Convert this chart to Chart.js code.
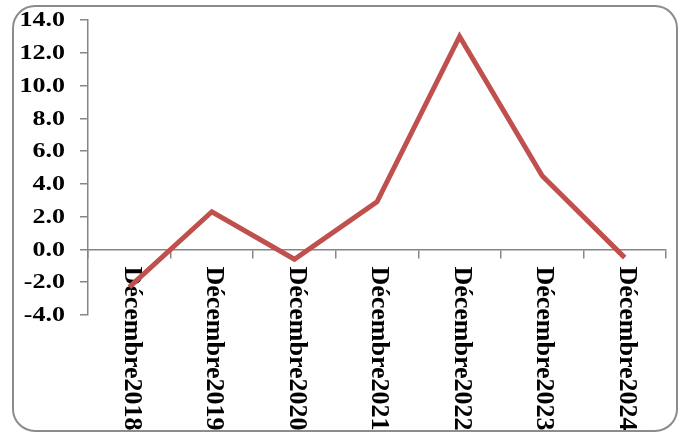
<!DOCTYPE html>
<html>
<head>
<meta charset="utf-8">
<script src="https://cdn.jsdelivr.net/npm/chart.js@4"></script>
<style>
  html, body { margin: 0; padding: 0; background: #fff; }
  #wrap { width: 681px; height: 435px; }
</style>
</head>
<body>
<div id="wrap"><canvas id="myChart" width="681" height="435"></canvas></div>
<script>
// data
const categories = ['Décembre2018', 'Décembre2019', 'Décembre2020', 'Décembre2021', 'Décembre2022', 'Décembre2023', 'Décembre2024'];
const values = [-2.3, 2.3, -0.6, 2.9, 13.0, 4.5, -0.5];
const yMin = -4;
const yMax = 14;
const yStep = 2;

const axisGrey = '#868686';
const serif = '"Liberation Serif", "Times New Roman", serif';

// rounded frame around the whole chart
const framePlugin = {
  id: 'frame',
  beforeDraw(chart) {
    const ctx = chart.ctx;
    ctx.save();
    ctx.strokeStyle = '#8c8c8c';
    ctx.lineWidth = 2;
    ctx.beginPath();
    ctx.roundRect(13, 6, 664, 425, 22);
    ctx.stroke();
    ctx.restore();
  }
};

// tick labels: y labels are a bit wide in the original, x labels hang rotated under the zero line
const labelPlugin = {
  id: 'labels',
  beforeDatasetsDraw(chart) {
    const ctx = chart.ctx;
    const xs = chart.scales.x;
    const ys = chart.scales.y;

    ctx.save();
    ctx.fillStyle = '#000';
    ctx.font = 'bold 20px ' + serif;
    ctx.textAlign = 'right';
    ctx.textBaseline = 'middle';
    ys.ticks.forEach(t => {
      ctx.save();
      ctx.translate(65, ys.getPixelForValue(t.value) + 1);
      ctx.scale(1.3, 1);
      ctx.fillText(t.value.toFixed(1), 0, 0);
      ctx.restore();
    });

    const y0 = ys.getPixelForValue(0) + 17;
    ctx.font = 'bold 26px ' + serif;
    ctx.textAlign = 'left';
    categories.forEach((lab, i) => {
      ctx.save();
      ctx.translate(xs.getPixelForValue(i) + 2, y0);
      ctx.rotate(Math.PI / 2);
      ctx.fillText(lab, 0, 0);
      ctx.restore();
    });
    ctx.restore();
  }
};

const ctx = document.getElementById('myChart').getContext('2d');
new Chart(ctx, {
  type: 'line',
  data: {
    labels: categories,
    datasets: [{
      data: values,
      borderColor: '#C0504D',
      borderWidth: 5,
      pointRadius: 0,
      tension: 0,
      fill: false
    }]
  },
  options: {
    responsive: false,
    animation: false,
    layout: { padding: { left: 0, right: 15, top: 20, bottom: 120 } },
    plugins: {
      legend: { display: false },
      tooltip: { enabled: false }
    },
    scales: {
      x: {
        type: 'category',
        position: { y: 0 },
        offset: true,
        afterFit: s => { s.height = 0; },
        grid: {
          offset: true,
          drawOnChartArea: false,
          drawTicks: true,
          tickLength: 8,
          color: axisGrey,
          lineWidth: 1.5
        },
        border: { color: axisGrey, width: 1.5 },
        ticks: { display: false }
      },
      y: {
        min: yMin,
        max: yMax,
        afterFit: s => { s.width = 88; },
        grid: {
          drawOnChartArea: false,
          drawTicks: true,
          tickLength: 8,
          color: axisGrey,
          lineWidth: 1.5
        },
        border: { color: axisGrey, width: 1.5 },
        ticks: { stepSize: yStep, display: false }
      }
    }
  },
  plugins: [framePlugin, labelPlugin]
});
</script>
</body>
</html>
